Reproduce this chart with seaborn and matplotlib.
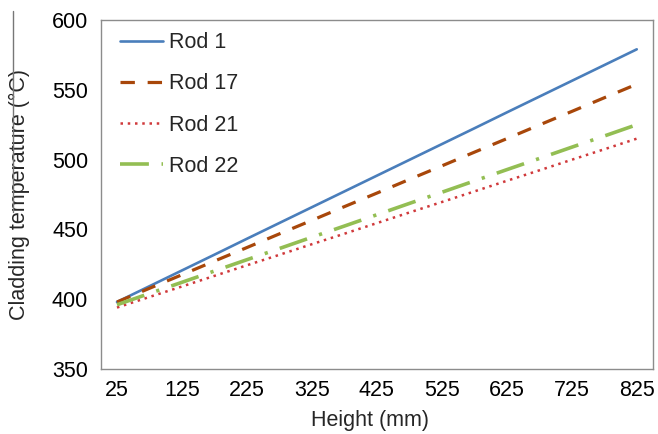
import matplotlib
matplotlib.use("Agg")
import matplotlib.pyplot as plt
import seaborn as sns
import pandas as pd
from matplotlib.lines import Line2D

# ---- data ----
heights = [25, 75, 125, 175, 225, 275, 325, 375, 425, 475, 525, 575, 625, 675, 725, 775, 825]
rod1 = [398, 409.3, 420.6, 431.9, 443.3, 454.6, 465.9, 477.2, 488.5, 499.8, 511.1, 522.4, 533.8, 545.1, 556.4, 567.7, 579]
rod17 = [398, 407.8, 417.5, 427.3, 437, 446.8, 456.5, 466.3, 476, 485.8, 495.5, 505.3, 515, 524.8, 534.5, 544.3, 554]
rod21 = [394, 401.6, 409.1, 416.7, 424.3, 431.8, 439.4, 446.9, 454.5, 462.1, 469.6, 477.2, 484.8, 492.3, 499.9, 507.4, 515]
rod22 = [396, 404.1, 412.1, 420.2, 428.3, 436.3, 444.4, 452.4, 460.5, 468.6, 476.6, 484.7, 492.8, 500.8, 508.9, 516.9, 525]
series_names = ["Rod 1", "Rod 17", "Rod 21", "Rod 22"]
x_tick_labels = [25, 125, 225, 325, 425, 525, 625, 725, 825]
y_ticks = [350, 400, 450, 500, 550, 600]

sns.set_style("white")
plt.rcParams["font.family"] = ["Liberation Sans", "DejaVu Sans"]

fig = plt.figure(figsize=(6.58, 4.34), dpi=100)
ax = fig.add_axes([0.1531, 0.1498, 0.8393, 0.8041])

styles = {
    "Rod 1": dict(color="#4A7EBB", lw=1.9, dashes=None),
    "Rod 17": dict(color="#A8470A", lw=2.3, dashes=(4.5, 4.0)),
    "Rod 21": dict(color="#D0393B", lw=1.8, dashes=(1.0, 1.9)),
    "Rod 22": dict(color="#93BE53", lw=2.6, dashes=(8.0, 3.5, 0.9, 3.5)),
}
values = {"Rod 1": rod1, "Rod 17": rod17, "Rod 21": rod21, "Rod 22": rod22}

for name in series_names:
    df = pd.DataFrame({"Height": heights, "Temp": values[name]})
    st = styles[name]
    sns.lineplot(data=df, x="Height", y="Temp", ax=ax, color=st["color"],
                 linewidth=st["lw"], label=name)
    line = ax.get_lines()[-1]
    if st["dashes"] is not None:
        line.set_dashes(st["dashes"])

FS = 15.5
ax.set_xlim(0, 850)
ax.set_ylim(350, 600)
ax.set_xticks(x_tick_labels)
ax.set_xticklabels([str(v) for v in x_tick_labels])
ax.set_xticks(list(range(50, 850, 50)), minor=True)
ax.set_yticks(y_ticks)
ax.set_yticklabels([str(v) for v in y_ticks])

ax.tick_params(axis="x", which="major", length=0, labelsize=FS, pad=8, colors="black")
ax.tick_params(axis="x", which="minor", direction="in", length=5, width=0.8, color="#888888")
ax.tick_params(axis="y", which="major", direction="in", length=5, width=0.8, color="#888888",
               labelsize=FS, pad=9, labelcolor="black")

for s in ax.spines.values():
    s.set_visible(True)
    s.set_color("#8C8C8C")
    s.set_linewidth(1.0)

ax.set_xlabel("Height (mm)", fontsize=FS)
ax.set_ylabel("Cladding temperature (°C)", fontsize=FS)
ax.xaxis.set_label_coords(0.488, -0.118)
ax.yaxis.set_label_coords(-0.128, 0.5)

leg = ax.legend(loc="upper left", bbox_to_anchor=(0.035, 0.965), frameon=False,
                fontsize=FS, handlelength=2.0, handletextpad=0.25, labelspacing=0.94,
                borderpad=0, borderaxespad=0)

# thin vertical line beside the y label, as in the reference
fig.add_artist(Line2D([12.5 / 658, 12.5 / 658], [1 - 11 / 434, 1 - 212 / 434],
                      transform=fig.transFigure, color="#777777", lw=1.0))

fig.savefig("out.png", dpi=100)
